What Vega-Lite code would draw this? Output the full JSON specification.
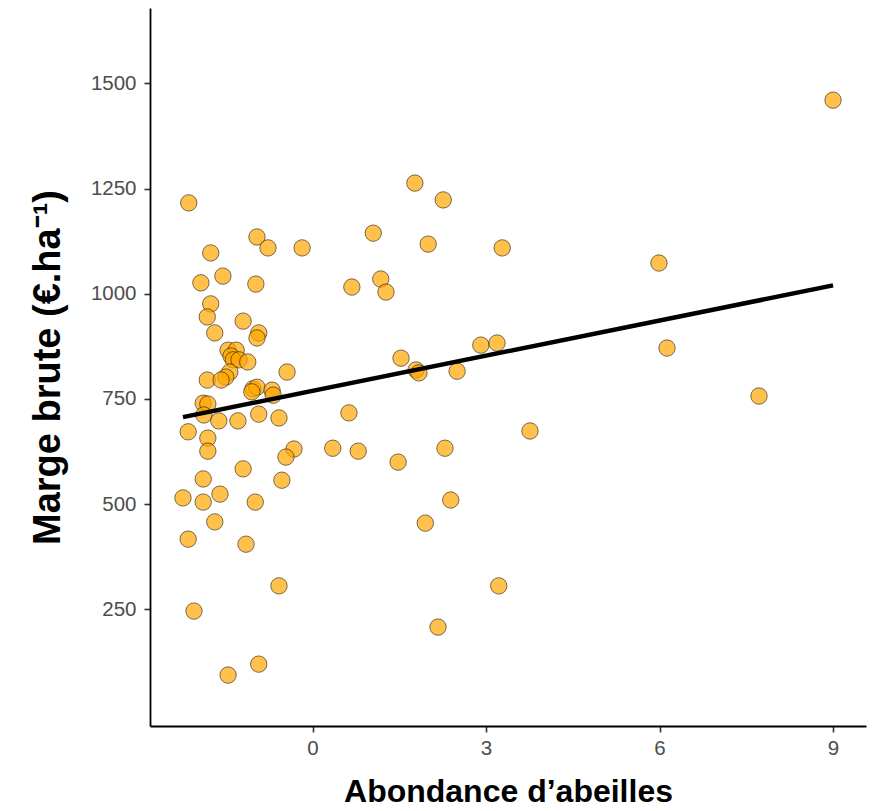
{
  "$schema": "https://vega.github.io/schema/vega-lite/v6.json",
  "width": 716,
  "height": 718,
  "autosize": {"type": "none"},
  "padding": {"left": 150, "top": 8, "right": 18, "bottom": 85},
  "background": "white",
  "config": {
    "view": {"stroke": null},
    "axis": {
      "grid": false,
      "domainColor": "black",
      "domainWidth": 1.8,
      "tickColor": "#333333",
      "tickWidth": 1.6,
      "tickSize": 6,
      "labelColor": "#4D4D4D",
      "labelFont": "Liberation Sans",
      "labelFontSize": 20.5,
      "format": "d",
      "titleColor": "black",
      "titleFont": "Liberation Sans",
      "titleFontWeight": "bold"
    }
  },
  "datasets": {
    "sites": [
      {"abondance": 9.0, "marge": 1460},
      {"abondance": -2.14, "marge": 1216},
      {"abondance": 1.77, "marge": 1263},
      {"abondance": 2.26, "marge": 1223},
      {"abondance": -0.96, "marge": 1135},
      {"abondance": -0.77, "marge": 1109},
      {"abondance": -0.18, "marge": 1109},
      {"abondance": 1.05, "marge": 1144},
      {"abondance": 2.0, "marge": 1118},
      {"abondance": 3.28, "marge": 1109},
      {"abondance": -1.76, "marge": 1097},
      {"abondance": -1.93, "marge": 1026},
      {"abondance": -1.55, "marge": 1042},
      {"abondance": -0.98, "marge": 1023},
      {"abondance": 0.68, "marge": 1016},
      {"abondance": 1.18, "marge": 1035},
      {"abondance": 1.27, "marge": 1004},
      {"abondance": 5.99, "marge": 1073},
      {"abondance": -1.76, "marge": 976},
      {"abondance": -1.82, "marge": 945},
      {"abondance": -1.69, "marge": 907},
      {"abondance": -1.2, "marge": 935},
      {"abondance": -0.93, "marge": 907},
      {"abondance": -0.96, "marge": 895},
      {"abondance": -1.46, "marge": 866},
      {"abondance": -1.32, "marge": 866},
      {"abondance": -1.41, "marge": 852},
      {"abondance": -1.37, "marge": 843},
      {"abondance": -1.27, "marge": 843},
      {"abondance": -1.12, "marge": 838},
      {"abondance": -0.44, "marge": 814},
      {"abondance": -1.43, "marge": 814},
      {"abondance": -1.5, "marge": 802},
      {"abondance": -1.82, "marge": 795},
      {"abondance": -1.58, "marge": 795},
      {"abondance": -1.03, "marge": 774},
      {"abondance": -0.96, "marge": 778},
      {"abondance": -1.05, "marge": 767},
      {"abondance": -0.7, "marge": 771},
      {"abondance": -0.68, "marge": 759},
      {"abondance": -1.89, "marge": 740},
      {"abondance": -1.81, "marge": 738},
      {"abondance": -1.88, "marge": 712},
      {"abondance": -1.62, "marge": 698},
      {"abondance": -1.29, "marge": 698},
      {"abondance": -0.93, "marge": 714},
      {"abondance": -0.58, "marge": 705},
      {"abondance": -2.15, "marge": 672},
      {"abondance": -1.81, "marge": 657},
      {"abondance": -1.81, "marge": 626},
      {"abondance": -0.32, "marge": 631},
      {"abondance": -0.46, "marge": 612},
      {"abondance": 0.35, "marge": 633},
      {"abondance": 0.79, "marge": 626},
      {"abondance": 2.29, "marge": 633},
      {"abondance": 1.48, "marge": 600},
      {"abondance": 0.63, "marge": 717},
      {"abondance": 1.53, "marge": 847},
      {"abondance": 1.79, "marge": 819},
      {"abondance": 1.84, "marge": 812},
      {"abondance": 2.5, "marge": 816},
      {"abondance": 2.91, "marge": 878},
      {"abondance": 3.19, "marge": 883},
      {"abondance": 6.13, "marge": 871},
      {"abondance": 7.72, "marge": 757},
      {"abondance": 3.76, "marge": 674},
      {"abondance": -1.2, "marge": 584},
      {"abondance": -1.89, "marge": 560},
      {"abondance": -0.53, "marge": 557},
      {"abondance": -2.24, "marge": 515},
      {"abondance": -1.89, "marge": 505},
      {"abondance": -1.6, "marge": 524},
      {"abondance": -0.99, "marge": 505},
      {"abondance": -1.69, "marge": 458},
      {"abondance": 2.39, "marge": 510},
      {"abondance": 1.95, "marge": 455},
      {"abondance": -2.15, "marge": 417},
      {"abondance": -1.15, "marge": 405},
      {"abondance": -0.58, "marge": 306},
      {"abondance": 3.22, "marge": 306},
      {"abondance": -2.05, "marge": 246},
      {"abondance": 2.17, "marge": 208},
      {"abondance": -0.93, "marge": 120},
      {"abondance": -1.46, "marge": 94}
    ],
    "ajustement": [
      {"abondance": -2.24, "marge": 707},
      {"abondance": 9.0, "marge": 1020}
    ]
  },
  "layer": [
    {
      "data": {"name": "sites"},
      "mark": {
        "type": "circle",
        "size": 270,
        "fill": "#FFA500",
        "fillOpacity": 0.7,
        "stroke": "black",
        "strokeOpacity": 0.65,
        "strokeWidth": 0.8
      },
      "encoding": {
        "x": {
          "field": "abondance",
          "type": "quantitative",
          "scale": {"domain": [-2.81, 9.57], "nice": false, "zero": false},
          "axis": {"values": [0, 3, 6, 9], "title": "Abondance d’abeilles", "titleFontSize": 32, "labelPadding": 6, "titlePadding": 18}
        },
        "y": {
          "field": "marge",
          "type": "quantitative",
          "scale": {"domain": [-27, 1679], "nice": false, "zero": false},
          "axis": {"values": [250, 500, 750, 1000, 1250, 1500], "title": "Marge brute (€.ha⁻¹)", "titleFontSize": 38, "labelPadding": 8, "titlePadding": 23}
        }
      }
    },
    {
      "data": {"name": "ajustement"},
      "mark": {"type": "line", "color": "black", "strokeWidth": 4.5},
      "encoding": {
        "x": {"field": "abondance", "type": "quantitative"},
        "y": {"field": "marge", "type": "quantitative"}
      }
    }
  ]
}
